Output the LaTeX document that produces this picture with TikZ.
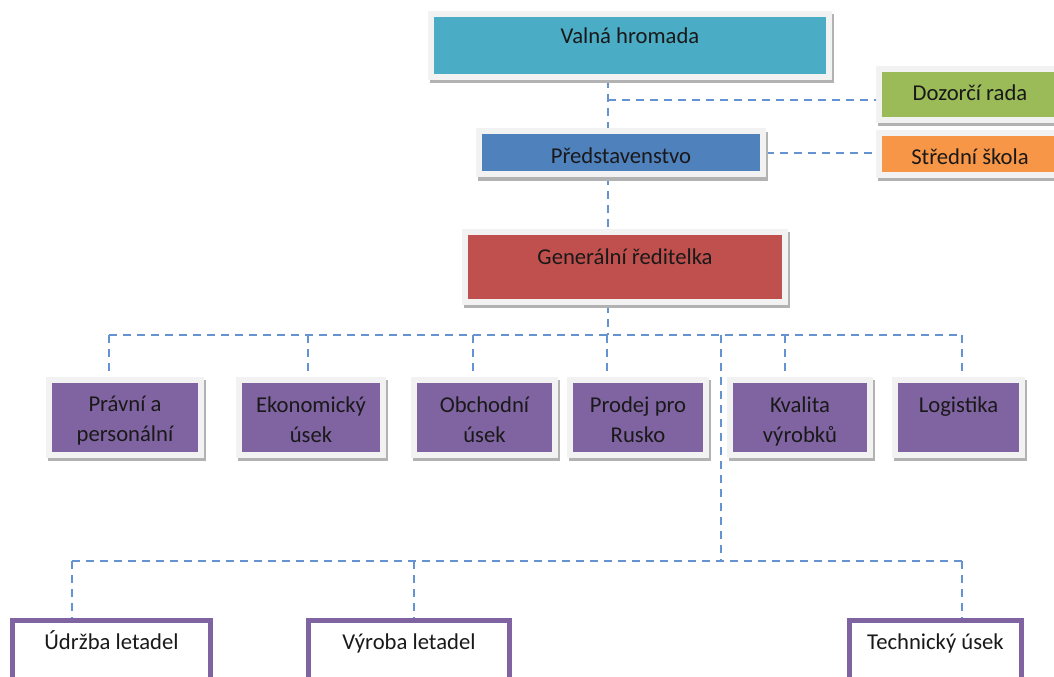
\documentclass[tikz,border=0pt]{standalone}
\usepackage{fontspec}
\setmainfont{Carlito}
\usepackage{tikz}
\usepackage{xcolor}
\usetikzlibrary{positioning, shadows, backgrounds}
\definecolor{OrgTeal}{HTML}{4BACC6}
\definecolor{OrgBlue}{HTML}{4F81BD}
\definecolor{OrgGreen}{HTML}{9BBB59}
\definecolor{OrgOrange}{HTML}{F79646}
\definecolor{OrgRed}{HTML}{C0504D}
\definecolor{OrgPurple}{HTML}{8064A2}
\definecolor{OrgLine}{HTML}{6592D0}
\definecolor{OrgFrame}{HTML}{F2F2F2}
\tikzset{
    % Box styles - light frame and a shadow below
    orgbox/.style={
        rectangle,
        draw=OrgFrame,
        line width=4.5pt,
        inner sep=0pt,
        drop shadow={shadow xshift=1.5pt, shadow yshift=-2.5pt, opacity=1,
                     fill=black!30, draw=black!30, line width=4.5pt}
    },
    deptbox/.style={
        orgbox,
        fill=OrgPurple,
        minimum height=56.25pt
    },
    unitbox/.style={
        rectangle,
        draw=OrgPurple,
        line width=3.5pt,
        fill=white,
        minimum height=75pt
    },
    boxtext/.style={
        align=center,
        inner sep=0pt,
        text=black!90,
        font=\fontsize{17}{22.5}\selectfont
    },
    % Connector style
    orgline/.style={
        draw=OrgLine,
        line width=1.1pt,
        dash pattern=on 6pt off 4.5pt
    }
}
\begin{document}
\begin{tikzpicture}[x=0.75pt, y=-0.75pt]
    \clip (0,0) rectangle (1054,677);

    % Top boxes
    \node[orgbox,fill=OrgTeal,minimum width=298.5pt,minimum height=47.25pt] (valna) at (630,45.5) {};
    \node[boxtext,below=12pt of valna.north] (valnat) {Valná hromada};

    \node[orgbox,fill=OrgBlue,minimum width=213pt,minimum height=32.25pt] (pred) at (621,153) {};
    \node[boxtext,below=14pt of pred.north] (predt) {Představenstvo};

    \node[orgbox,fill=OrgGreen,minimum width=136.5pt,minimum height=38.25pt] (dozorci) at (970,94.5) {};
    \node[boxtext,below=13.5pt of dozorci.north] (dozorcit) {Dozorčí rada};

    \node[orgbox,fill=OrgOrange,minimum width=136.5pt,minimum height=31.5pt] (stredni) at (970,154) {};
    \node[boxtext,below=13.5pt of stredni.north] (strednit) {Střední škola};

    \node[orgbox,fill=OrgRed,minimum width=240pt,minimum height=52.5pt] (gen) at (625,267) {};
    \node[boxtext,below=14.25pt of gen.north] (gent) {Generální ředitelka};

    % Departments
    \node[deptbox,minimum width=114pt] (p1) at (125,417.5) {};
    \node[deptbox,minimum width=108pt] (p2) at (311,417.5) {};
    \node[deptbox,minimum width=105.75pt] (p3) at (484.5,417.5) {};
    \node[deptbox,minimum width=102pt] (p4) at (638,417.5) {};
    \node[deptbox,minimum width=105pt] (p5) at (800,417.5) {};
    \node[deptbox,minimum width=95.25pt] (p6) at (958.5,417.5) {};
    \node[boxtext,below=14.25pt of p1.north] (p1t) {Právní a\\personální};
    \node[boxtext,below=14.25pt of p2.north] (p2t) {Ekonomický\\úsek};
    \node[boxtext,below=14.25pt of p3.north] (p3t) {Obchodní\\úsek};
    \node[boxtext,below=14.25pt of p4.north] (p4t) {Prodej pro\\Rusko};
    \node[boxtext,below=14.25pt of p5.north] (p5t) {Kvalita\\výrobků};
    \node[boxtext,below=14.25pt of p6.north] (p6t) {Logistika};

    % Lower units
    \node[unitbox,minimum width=148.5pt] (u1) at (111.5,670.5) {};
    \node[unitbox,minimum width=150.75pt] (u2) at (409,670.5) {};
    \node[unitbox,minimum width=129pt] (u3) at (935.5,670.5) {};
    \node[boxtext,below=9.25pt of u1.north] (u1t) {Údržba letadel};
    \node[boxtext,below=11.5pt of u2.north] (u2t) {Výroba letadel};
    \node[boxtext,below=11.5pt of u3.north] (u3t) {Technický úsek};

    % Connectors
    \coordinate (topjoin) at (608,100);
    \coordinate (bus) at (608,335);
    \coordinate (lowjoin) at (721,335);
    \foreach \n/\x in {p1/109, p2/308, p3/473, p4/607, p5/785, p6/962}
        \coordinate (d\n) at (\x,335);
    \foreach \n/\x in {u1/72, u2/414, u3/962}
        \coordinate (d\n) at (\x,561);

    \begin{scope}[on background layer]
        \draw[orgline] (valna.south -| topjoin) -- (pred.north -| topjoin);
        \draw[orgline] (topjoin) -- (topjoin -| dozorci.west);
        \draw[orgline] (pred.east) -- (pred.east -| stredni.west);
        \draw[orgline] (pred.south -| topjoin) -- (gen.north -| topjoin);
        \draw[orgline] (gen.south -| bus) -- (bus);
        \draw[orgline] (dp1) -- (dp6);
        \foreach \n in {p1,p2,p3,p4,p5,p6}
            \draw[orgline] (d\n) -- (\n.north -| d\n);
        \draw[orgline] (lowjoin) -- (lowjoin |- du1);
        \draw[orgline] (du1) -- (du3);
        \foreach \n in {u1,u2,u3}
            \draw[orgline] (d\n) -- (\n.north -| d\n);
    \end{scope}
\end{tikzpicture}
\end{document}
